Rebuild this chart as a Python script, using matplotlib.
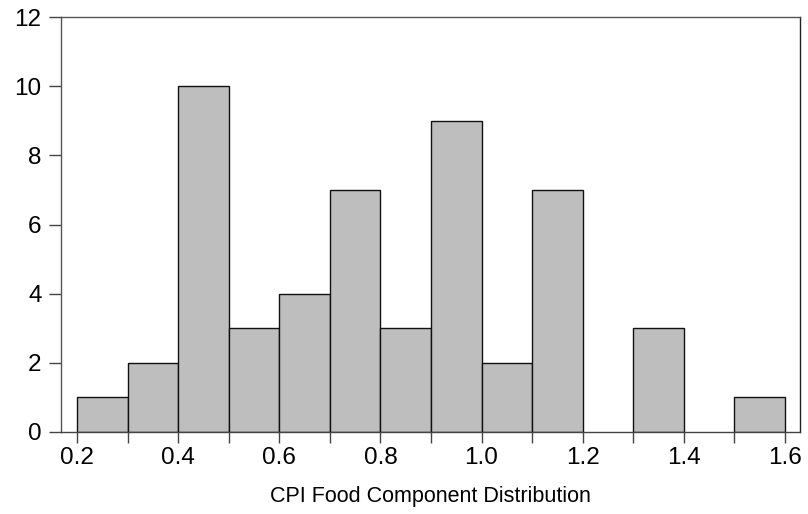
import matplotlib
matplotlib.use("Agg")
import matplotlib.pyplot as plt
import numpy as np

bin_left = [0.2, 0.3, 0.4, 0.5, 0.6, 0.7, 0.8, 0.9, 1.0, 1.1, 1.2, 1.3, 1.4, 1.5]
counts = [1, 2, 10, 3, 4, 7, 3, 9, 2, 7, 0, 3, 0, 1]
bin_width = 0.1
xticks = [0.2, 0.4, 0.6, 0.8, 1.0, 1.2, 1.4, 1.6]
xticklabels = ["0.2", "0.4", "0.6", "0.8", "1.0", "1.2", "1.4", "1.6"]
yticks = [0, 2, 4, 6, 8, 10, 12]
xlabel = "CPI Food Component Distribution"

plt.rcParams['font.family'] = ['Liberation Sans', 'DejaVu Sans']

fig = plt.figure(figsize=(8.08, 5.14), dpi=100)
ax = fig.add_axes([61/808, 1-432/514, (800-61)/808, (432-17)/514])

lefts = [b for b, c in zip(bin_left, counts) if c > 0]
hs = [c for c in counts if c > 0]
ax.bar(lefts, hs, width=bin_width, align='edge', color='#BEBEBE',
       edgecolor='#111111', linewidth=1.0, zorder=2)

ax.set_xlim(0.1684, 1.6297)
ax.set_ylim(0, 12)
ax.set_xticks(xticks)
ax.set_xticklabels(xticklabels)
ax.set_xticks(np.round(np.arange(0.3, 1.6, 0.2), 2), minor=True)
ax.set_yticks(yticks)

for s in ax.spines.values():
    s.set_color('#555555')
    s.set_linewidth(1.0)
ax.spines['right'].set_color('#222222')
ax.spines['bottom'].set_color('#444444')

ax.tick_params(axis='both', which='both', direction='out', color='#444444', width=1.0)
ax.tick_params(axis='y', length=9, labelsize=17.5, pad=5)
ax.tick_params(axis='x', which='major', length=8, labelsize=17.5, pad=3)
ax.tick_params(axis='x', which='minor', length=8)

ax.set_xlabel(xlabel, fontsize=15.5, labelpad=12)

fig.savefig("out.png", dpi=100)
